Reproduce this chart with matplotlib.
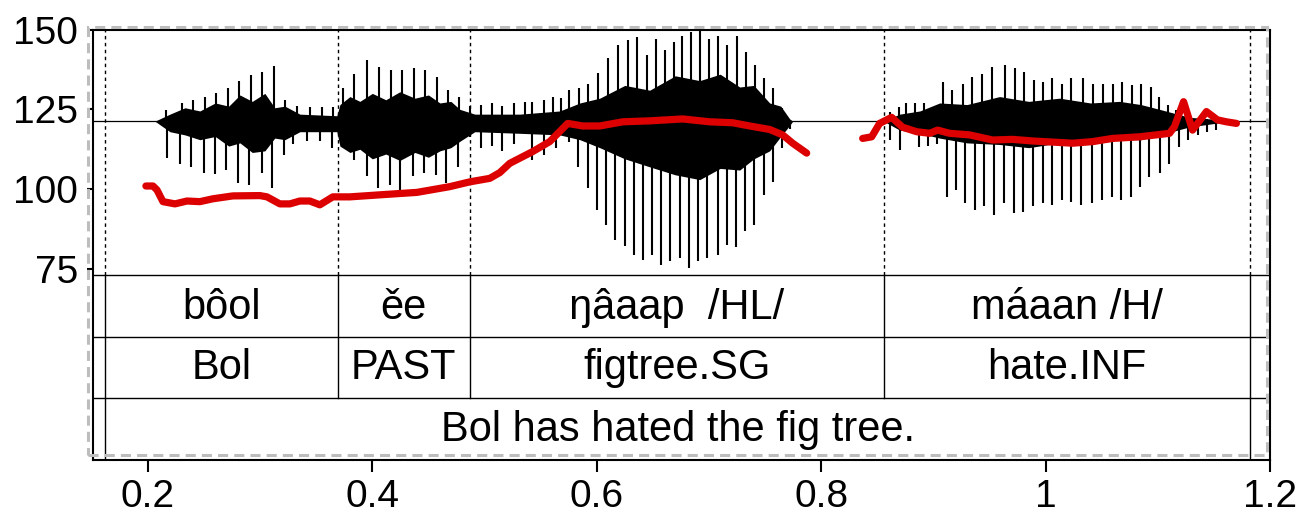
import matplotlib
matplotlib.use("Agg")
import matplotlib.pyplot as plt
from matplotlib.patches import Rectangle

plt.rcParams["font.family"] = ["Liberation Sans", "DejaVu Sans"]

# ── Waveform (drawn in the same axes, centred on WAVE_MID) ────────────────────
WAVE_MID = 121.3

TOP_T = [0.216, 0.230, 0.240, 0.251, 0.261, 0.271, 0.281, 0.292, 0.302, 0.312,
         0.322, 0.333, 0.344, 0.355, 0.365,
         0.374, 0.384, 0.395, 0.406, 0.417, 0.426, 0.437, 0.447, 0.458, 0.467,
         0.477, 0.487, 0.497, 0.507, 0.516, 0.526, 0.536,
         0.542, 0.553, 0.561, 0.568, 0.575, 0.584, 0.592, 0.601, 0.610, 0.619,
         0.628, 0.636, 0.645, 0.653, 0.661, 0.669, 0.676, 0.684, 0.692, 0.700,
         0.708, 0.716, 0.725, 0.733, 0.741, 0.749, 0.757, 0.765,
         0.861, 0.869, 0.876, 0.884, 0.892, 0.899, 0.909, 0.917, 0.926, 0.934,
         0.943, 0.952, 0.964, 0.973, 0.981, 0.990, 0.998, 1.006, 1.015, 1.023,
         1.033, 1.042, 1.051, 1.060, 1.068, 1.077, 1.085, 1.094, 1.101, 1.109,
         1.116, 1.125, 1.136, 1.144, 1.152]
TOP_V = [124.8, 127.0, 127.9, 128.8, 130.0, 131.6, 134.0, 135.7, 136.7, 138.5,
         128.0, 126.0, 125.7, 125.7, 125.7,
         131.6, 136.2, 140.4, 138.3, 137.3, 137.3, 137.9, 137.3, 135.2, 131.0,
         129.0, 126.0, 126.5, 127.0, 126.0, 127.0, 127.4,
         127.4, 127.9, 129.0, 128.5, 131.0, 131.6, 133.0, 136.3, 141.0, 145.0,
         146.7, 147.7, 142.0, 147.0, 143.5, 146.0, 148.0, 149.2, 149.8, 147.0,
         148.0, 145.0, 148.0, 143.0, 138.8, 134.8, 131.6, 125.3,
         124.3, 125.8, 127.0, 127.0, 127.0, 124.8, 133.6, 131.0, 133.0, 135.2,
         136.2, 138.3, 138.8, 137.9, 136.8, 134.2, 133.6, 134.7, 133.0, 134.7,
         134.7, 133.0, 133.0, 133.0, 133.6, 132.6, 133.0, 132.0, 129.0, 126.3,
         124.8, 123.8, 122.3, 122.0, 122.0]

BOT_T = [0.217, 0.2285, 0.238, 0.250, 0.260, 0.270, 0.280, 0.290, 0.302, 0.311,
         0.321, 0.329, 0.342, 0.353, 0.364,
         0.374, 0.384, 0.395, 0.405, 0.416, 0.425, 0.436, 0.446, 0.457, 0.466,
         0.476, 0.487, 0.497, 0.507, 0.516, 0.526,
         0.542, 0.553, 0.564, 0.575, 0.583, 0.592, 0.600, 0.608, 0.616, 0.625,
         0.633, 0.641, 0.649, 0.657, 0.665, 0.674, 0.682, 0.690, 0.698, 0.708,
         0.716, 0.724, 0.732, 0.740, 0.749, 0.757, 0.765, 0.772,
         0.861, 0.870, 0.887, 0.895, 0.903, 0.912, 0.920, 0.928, 0.937, 0.945,
         0.954, 0.963, 0.972, 0.980, 0.989, 0.998, 1.006, 1.015, 1.023, 1.032,
         1.041, 1.050, 1.059, 1.067, 1.076, 1.084, 1.092, 1.102, 1.110, 1.119,
         1.127, 1.136, 1.144, 1.152]
BOT_V = [109.8, 107.9, 107.0, 105.0, 104.8, 106.0, 102.0, 101.3, 105.0, 100.4,
         110.8, 114.0, 115.0, 115.0, 113.0,
         113.3, 109.0, 104.0, 100.4, 101.3, 99.8, 104.0, 105.0, 104.5, 102.0,
         107.0, 116.4, 113.0, 113.5, 112.0, 114.0,
         109.0, 110.7, 112.8, 114.9, 107.0, 100.4, 93.5, 88.9, 84.2, 82.1,
         79.5, 77.9, 79.5, 76.3, 77.4, 78.5, 75.4, 77.4, 78.5, 79.5,
         82.6, 82.0, 86.8, 88.9, 98.2, 102.4, 112.9, 119.0,
         115.4, 112.3, 113.3, 113.5, 114.0, 97.7, 99.8, 95.7, 93.5, 94.6,
         92.0, 95.7, 92.6, 93.0, 94.6, 95.7, 95.0, 96.7, 96.0, 95.0,
         95.7, 96.7, 97.7, 96.7, 97.7, 100.8, 103.9, 105.0, 108.0, 113.3,
         115.4, 117.0, 118.0, 118.5]

# dense core of the waveform (ragged edge)
CORE_T = [0.2062, 0.2196, 0.2330, 0.2463, 0.2600, 0.2720, 0.2820, 0.2930,
          0.3042, 0.3130, 0.3221, 0.3354, 0.3684,
          0.3711, 0.3800, 0.3889, 0.4000, 0.4120, 0.4245, 0.4380, 0.4500,
          0.4602, 0.4700, 0.4780, 0.4913, 0.5314, 0.5671,
          0.5850, 0.6027, 0.6250, 0.6472, 0.6700, 0.6918, 0.7100, 0.7274,
          0.7400, 0.7541, 0.7640, 0.7720, 0.7747,
          0.8557, 0.8700, 0.8880, 0.9056, 0.9300, 0.9590, 0.9850, 1.0125,
          1.0400, 1.0659, 1.0850, 1.1016, 1.1283, 1.1550]
CORE_HI = [121.3, 123.5, 125.5, 124.5, 127.0, 126.0, 129.5, 127.5,
           130.0, 125.5, 126.0, 123.5, 123.0,
           126.5, 129.0, 127.5, 130.0, 128.0, 130.5, 128.5, 129.5,
           127.0, 127.5, 125.0, 123.5, 123.5, 124.5,
           127.0, 128.5, 132.5, 131.0, 135.5, 134.0, 136.0, 132.0,
           132.5, 127.0, 126.0, 122.0, 121.3,
           121.3, 123.5, 124.5, 127.0, 126.5, 129.0, 127.5, 128.5,
           127.0, 127.5, 126.5, 125.0, 122.5, 121.8]
CORE_LO = [121.3, 118.0, 117.0, 115.5, 116.5, 113.5, 114.5, 111.5,
           112.0, 116.0, 115.5, 118.0, 118.0,
           113.5, 111.5, 112.5, 109.5, 111.0, 109.0, 111.5, 110.0,
           112.0, 113.0, 115.0, 118.0, 117.5, 117.0,
           115.5, 113.0, 109.5, 107.0, 104.5, 103.0, 106.5, 106.0,
           109.5, 112.0, 116.5, 120.0, 121.3,
           121.3, 118.5, 117.5, 116.0, 114.5, 114.0, 113.0, 114.5,
           114.0, 115.5, 115.5, 117.0, 119.5, 120.8]

# ── Pitch track (Hz) ──────────────────────────────────────────────────────────
PITCH_T1 = [0.1982, 0.2045, 0.2080, 0.2134, 0.2241, 0.2348, 0.2463, 0.2579,
            0.2757, 0.2998, 0.3061, 0.3176, 0.3265, 0.3354, 0.3443, 0.3532,
            0.3648, 0.3800, 0.4094, 0.4397, 0.4690, 0.4869, 0.5047, 0.5136,
            0.5225, 0.5430, 0.5581, 0.5742, 0.5875, 0.6027, 0.6232, 0.6472,
            0.6766, 0.7007, 0.7212, 0.7363, 0.7541, 0.7657, 0.7746, 0.7871]
PITCH_F1 = [101.0, 101.0, 99.8, 96.1, 95.4, 96.3, 96.1, 97.0,
            97.9, 98.0, 97.6, 95.4, 95.4, 96.3, 96.3, 95.1,
            97.6, 97.6, 98.3, 99.0, 100.8, 102.3, 103.4, 105.2,
            108.1, 111.8, 114.9, 120.6, 119.8, 119.8, 121.1, 121.4,
            122.0, 121.1, 120.8, 119.8, 118.7, 117.0, 114.4, 111.3]
PITCH_T2 = [0.8370, 0.8450, 0.8521, 0.8628, 0.8726, 0.8851, 0.8967, 0.9038,
            0.9145, 0.9323, 0.9528, 0.9706, 0.9884, 1.0241, 1.0419, 1.0597,
            1.0838, 1.1105, 1.1149, 1.1230, 1.1310, 1.1434, 1.1532, 1.1612,
            1.1701]
PITCH_F2 = [115.9, 116.4, 120.6, 122.5, 119.4, 118.0, 117.5, 118.5,
            117.5, 117.0, 115.4, 115.6, 115.1, 114.4, 114.9, 115.9,
            116.4, 117.5, 119.6, 127.4, 118.5, 124.3, 121.7, 121.1,
            120.6]

# ── TextGrid ──────────────────────────────────────────────────────────────────
BOUNDS = [0.1617, 0.3693, 0.4869, 0.8557, 1.1826]
WORDS = ["bôol", "ěe", "ŋâaap  /HL/", "máaan /H/"]
GLOSSES = ["Bol", "PAST", "figtree.SG", "hate.INF"]
TRANSLATION = "Bol has hated the fig tree."

X_TICKS = [0.2, 0.4, 0.6, 0.8, 1.0, 1.2]
X_TICK_LABELS = ["0.2", "0.4", "0.6", "0.8", "1", "1.2"]
Y_TICKS = [75, 100, 125, 150]

# layout (data units)
XMIN, XMAX = 0.151, 1.2
YMIN, YMAX = 15.2, 150.0
TIER_EDGES = [73.2, 53.8, 34.5, YMIN]

fig = plt.figure(figsize=(13.11, 5.16), dpi=100)
ax = fig.add_axes([0.0709, 0.1085, 0.8978, 0.8343])
ax.set_xlim(XMIN, XMAX)
ax.set_ylim(YMIN, YMAX)

# waveform
ax.plot([XMIN, XMAX], [WAVE_MID, WAVE_MID], color="black", lw=0.9, zorder=2)
ax.fill_between(CORE_T, CORE_LO, CORE_HI, color="black", lw=0, zorder=2)
ax.vlines(TOP_T, WAVE_MID, TOP_V, color="black", lw=1.5, zorder=2)
ax.vlines(BOT_T, BOT_V, WAVE_MID, color="black", lw=1.5, zorder=2)

# pitch
for pt, pf in [(PITCH_T1, PITCH_F1), (PITCH_T2, PITCH_F2)]:
    ax.plot(pt, pf, color="#dd0000", lw=5.2, solid_capstyle="round",
            solid_joinstyle="round", zorder=4)

# interval boundaries (dotted above the tiers)
for b in BOUNDS:
    ax.plot([b, b], [TIER_EDGES[0], YMAX], color="black", lw=1.0,
            linestyle=(0, (2.5, 2.5)), zorder=3)

# tier lines
for yv in TIER_EDGES[:3]:
    ax.plot([XMIN, XMAX], [yv, yv], color="black", lw=1.0, zorder=3)
for b in (BOUNDS[0], BOUNDS[-1]):
    ax.plot([b, b], [YMIN, TIER_EDGES[0]], color="black", lw=1.0, zorder=3)
for b in BOUNDS[1:-1]:
    ax.plot([b, b], [TIER_EDGES[2], TIER_EDGES[0]], color="black", lw=1.0, zorder=3)

txt_kw = dict(ha="center", va="baseline", fontsize=30, color="black")
for i in range(4):
    xc = 0.5 * (BOUNDS[i] + BOUNDS[i + 1])
    ax.text(xc, TIER_EDGES[1] + 5.5, WORDS[i], **txt_kw)
    ax.text(xc, TIER_EDGES[2] + 6.2, GLOSSES[i], **txt_kw)
ax.text(0.5 * (BOUNDS[0] + BOUNDS[-1]), YMIN + 5.9, TRANSLATION, **txt_kw)

# gray dashed viewport frame
ax.add_patch(Rectangle((0.1465, 16.9), 1.1978 - 0.1465, 150.7 - 16.9,
                       fill=False, edgecolor="#bdbdbd", lw=2.2,
                       linestyle=(0, (3.3, 2)), clip_on=False, zorder=5))

for sp in ax.spines.values():
    sp.set_linewidth(1.5)
ax.set_xticks(X_TICKS)
ax.set_xticklabels(X_TICK_LABELS)
ax.set_yticks(Y_TICKS)
ax.tick_params(axis="x", direction="out", length=8.5, width=1.5, pad=5,
               labelsize=28)
ax.tick_params(axis="y", direction="out", length=4.5, width=1.5, pad=6,
               labelsize=28)

fig.savefig("out.png", dpi=100)
